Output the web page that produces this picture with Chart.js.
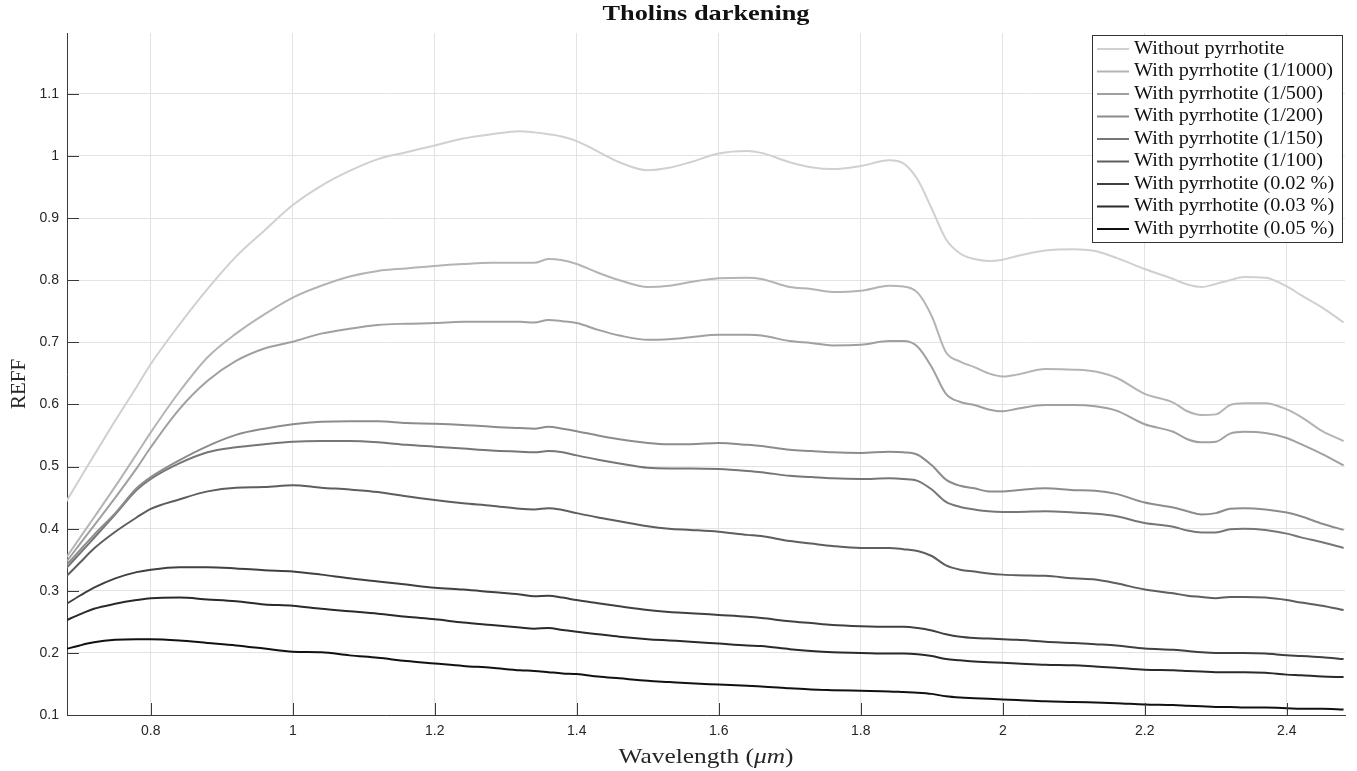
<!DOCTYPE html>
<html>
  <head>
    <title>Tholins darkening</title>
    <script src="https://cdn.jsdelivr.net/npm/chart.js@4.4.0/dist/chart.umd.min.js"></script>
    <style>
      body {
        margin: 0;
        background: #fff;
      }
      #chart {
        display: block;
      }
    </style>
  </head>
  <body>
    <canvas id="chart" width="1357" height="771"></canvas>

    <script>
      // wavelength (um)
      const wavelengths = [
        0.68, 0.70, 0.72, 0.75, 0.78, 0.80, 0.84, 0.88, 0.92, 0.96, 1.00, 1.04, 1.08, 1.12, 1.16, 1.20,
        1.24, 1.28, 1.32, 1.34, 1.36, 1.38, 1.40, 1.43, 1.46, 1.50, 1.53, 1.56, 1.60, 1.64, 1.66, 1.70,
        1.73, 1.76, 1.80, 1.84, 1.86, 1.88, 1.90, 1.92, 1.94, 1.96, 1.98, 2.00, 2.02, 2.06, 2.10, 2.13,
        2.16, 2.20, 2.24, 2.26, 2.28, 2.30, 2.32, 2.34, 2.37, 2.40, 2.42, 2.45, 2.48
      ];

      const withoutPyrr = [
        0.442, 0.480, 0.518, 0.574, 0.628, 0.665, 0.728, 0.786, 0.838, 0.880, 0.921, 0.952, 0.976, 0.995, 1.006, 1.017,
        1.028, 1.035, 1.040, 1.038, 1.035, 1.031, 1.024, 1.007, 0.990, 0.977, 0.981, 0.990, 1.004, 1.008, 1.005, 0.990,
        0.982, 0.979, 0.984, 0.993, 0.988, 0.962, 0.915, 0.866, 0.843, 0.834, 0.831, 0.833, 0.839, 0.848, 0.850, 0.847,
        0.836, 0.818, 0.802, 0.793, 0.789, 0.794, 0.800, 0.805, 0.804, 0.790, 0.776, 0.756, 0.732
      ];
      const pyrr1000 = [
        0.352, 0.385, 0.418, 0.468, 0.520, 0.555, 0.620, 0.676, 0.714, 0.745, 0.772, 0.791, 0.806, 0.815, 0.819, 0.823,
        0.826, 0.828, 0.828, 0.828, 0.834, 0.832, 0.826, 0.812, 0.800, 0.789, 0.791, 0.797, 0.803, 0.804, 0.802, 0.789,
        0.786, 0.781, 0.783, 0.791, 0.790, 0.780, 0.742, 0.684, 0.669, 0.660, 0.650, 0.645, 0.648, 0.657, 0.656, 0.653,
        0.643, 0.617, 0.603, 0.589, 0.583, 0.584, 0.599, 0.602, 0.602, 0.592, 0.580, 0.557, 0.541
      ];
      const pyrr500 = [
        0.345, 0.375, 0.405, 0.450, 0.497, 0.531, 0.592, 0.638, 0.670, 0.690, 0.701, 0.714, 0.722, 0.728, 0.730, 0.731,
        0.733, 0.733, 0.733, 0.732, 0.736, 0.734, 0.731, 0.720, 0.711, 0.704, 0.705, 0.708, 0.712, 0.712, 0.711, 0.702,
        0.699, 0.695, 0.696, 0.702, 0.702, 0.693, 0.660, 0.617, 0.604, 0.599, 0.592, 0.589, 0.593, 0.599, 0.599, 0.597,
        0.590, 0.568, 0.556, 0.544, 0.539, 0.540, 0.553, 0.556, 0.554, 0.546, 0.536, 0.520, 0.502
      ];
      const pyrr200 = [
        0.340, 0.365, 0.390, 0.425, 0.465, 0.483, 0.510, 0.533, 0.551, 0.561, 0.568, 0.572, 0.573, 0.573, 0.570, 0.569,
        0.567, 0.564, 0.562, 0.561, 0.564, 0.561, 0.557, 0.550, 0.544, 0.538, 0.536, 0.536, 0.538, 0.535, 0.533, 0.527,
        0.525, 0.523, 0.522, 0.524, 0.523, 0.519, 0.502, 0.479, 0.469, 0.465, 0.460, 0.460, 0.462, 0.465, 0.462, 0.461,
        0.456, 0.442, 0.434, 0.428, 0.423, 0.425, 0.432, 0.433, 0.431, 0.426, 0.420, 0.408, 0.398
      ];
      const pyrr150 = [
        0.335, 0.360, 0.385, 0.423, 0.462, 0.480, 0.505, 0.523, 0.531, 0.536, 0.540, 0.541, 0.541, 0.539, 0.535, 0.532,
        0.529, 0.526, 0.524, 0.523, 0.525, 0.523, 0.518, 0.511, 0.505, 0.498, 0.497, 0.497, 0.496, 0.493, 0.491, 0.485,
        0.483, 0.481, 0.480, 0.481, 0.480, 0.477, 0.463, 0.443, 0.435, 0.431, 0.428, 0.427, 0.427, 0.428, 0.426, 0.424,
        0.420, 0.409, 0.403, 0.397, 0.394, 0.394, 0.399, 0.400, 0.398, 0.392, 0.386, 0.378, 0.369
      ];
      const pyrr100 = [
        0.322, 0.345, 0.368, 0.395, 0.418, 0.432, 0.447, 0.460, 0.466, 0.467, 0.470, 0.466, 0.463, 0.459, 0.452, 0.446,
        0.441, 0.437, 0.432, 0.431, 0.433, 0.430, 0.425, 0.418, 0.412, 0.404, 0.400, 0.398, 0.395, 0.390, 0.388, 0.380,
        0.376, 0.372, 0.369, 0.369, 0.367, 0.364, 0.356, 0.341, 0.334, 0.331, 0.328, 0.326, 0.325, 0.324, 0.320, 0.318,
        0.312, 0.302, 0.296, 0.292, 0.290, 0.288, 0.290, 0.290, 0.289, 0.285, 0.281, 0.276, 0.269
      ];
      const pyrr002 = [
        0.278, 0.292, 0.305, 0.320, 0.330, 0.334, 0.338, 0.338, 0.336, 0.333, 0.331, 0.326, 0.320, 0.315, 0.310, 0.305,
        0.302, 0.298, 0.294, 0.291, 0.292, 0.289, 0.285, 0.280, 0.275, 0.269, 0.266, 0.264, 0.261, 0.258, 0.256, 0.251,
        0.248, 0.245, 0.243, 0.242, 0.242, 0.240, 0.236, 0.230, 0.226, 0.224, 0.223, 0.222, 0.221, 0.218, 0.216, 0.214,
        0.212, 0.207, 0.205, 0.203, 0.201, 0.200, 0.200, 0.200, 0.199, 0.196, 0.195, 0.193, 0.190
      ];
      const pyrr003 = [
        0.252, 0.262, 0.271, 0.279, 0.285, 0.288, 0.289, 0.286, 0.283, 0.278, 0.276, 0.271, 0.267, 0.263, 0.258, 0.254,
        0.249, 0.245, 0.241, 0.239, 0.240, 0.237, 0.234, 0.230, 0.226, 0.222, 0.220, 0.218, 0.215, 0.212, 0.211, 0.206,
        0.203, 0.201, 0.200, 0.199, 0.199, 0.198, 0.195, 0.190, 0.188, 0.186, 0.185, 0.184, 0.183, 0.181, 0.180, 0.178,
        0.176, 0.173, 0.172, 0.171, 0.170, 0.169, 0.169, 0.169, 0.168, 0.165, 0.164, 0.162, 0.161
      ];
      const pyrr005 = [
        0.206, 0.212, 0.217, 0.221, 0.222, 0.222, 0.220, 0.216, 0.212, 0.207, 0.202, 0.201, 0.196, 0.192, 0.187, 0.183,
        0.179, 0.176, 0.172, 0.171, 0.169, 0.167, 0.166, 0.162, 0.159, 0.155, 0.153, 0.151, 0.149, 0.147, 0.146, 0.143,
        0.141, 0.140, 0.139, 0.138, 0.137, 0.136, 0.134, 0.130, 0.128, 0.127, 0.126, 0.125, 0.124, 0.122, 0.121, 0.120,
        0.119, 0.117, 0.116, 0.115, 0.114, 0.113, 0.113, 0.112, 0.112, 0.111, 0.110, 0.110, 0.109
      ];

      const seriesLabels = [
        "Without pyrrhotite",
        "With pyrrhotite (1/1000)",
        "With pyrrhotite (1/500)",
        "With pyrrhotite (1/200)",
        "With pyrrhotite (1/150)",
        "With pyrrhotite (1/100)",
        "With pyrrhotite (0.02 %)",
        "With pyrrhotite (0.03 %)",
        "With pyrrhotite (0.05 %)",
      ];
      const seriesValues = [withoutPyrr, pyrr1000, pyrr500, pyrr200, pyrr150, pyrr100, pyrr002, pyrr003, pyrr005];
      const seriesColors = ["#d0d0d0", "#b4b4b4", "#a0a0a0", "#8c8c8c", "#767676", "#5e5e5e", "#404040", "#2a2a2a", "#111111"];

      const xTicks = [0.8, 1, 1.2, 1.4, 1.6, 1.8, 2, 2.2, 2.4];
      const yTicks = [0.1, 0.2, 0.3, 0.4, 0.5, 0.6, 0.7, 0.8, 0.9, 1, 1.1];

      const serif = "'Liberation Serif', 'Times New Roman', serif";
      const sans = "'Liberation Sans', Arial, sans-serif";

      // the reference uses a wide LaTeX font, so stretch the serif text to the same width
      function fitText(ctx, parts, x, y, targetW, align) {
        let total = 0;
        parts.forEach((p) => {
          ctx.font = p.font;
          p.w = ctx.measureText(p.text).width;
          total += p.w;
        });
        const s = targetW ? targetW / total : 1;
        ctx.save();
        ctx.translate(x, y);
        ctx.scale(s, 1);
        let cx = align === "center" ? -total / 2 : 0;
        ctx.textAlign = "left";
        parts.forEach((p) => {
          ctx.font = p.font;
          ctx.fillText(p.text, cx, 0);
          cx += p.w;
        });
        ctx.restore();
      }

      // MATLAB-ish decorations: inner tick marks, title, axis labels, boxed legend
      const decorPlugin = {
        id: "decor",
        afterDraw(chart) {
          const ctx = chart.ctx;
          const ca = chart.chartArea;
          const xs = chart.scales.x;
          const ys = chart.scales.y;
          ctx.save();

          ctx.strokeStyle = "#3a3a3a";
          ctx.lineWidth = 1;
          ctx.beginPath();
          xTicks.forEach((v) => {
            const px = Math.round(xs.getPixelForValue(v)) + 0.5;
            ctx.moveTo(px, ca.bottom);
            ctx.lineTo(px, ca.bottom - 12);
          });
          yTicks.forEach((v) => {
            const py = Math.round(ys.getPixelForValue(v)) + 0.5;
            ctx.moveTo(ca.left, py);
            ctx.lineTo(ca.left + 12, py);
          });
          ctx.stroke();

          const midX = (ca.left + ca.right) / 2;
          ctx.textBaseline = "alphabetic";

          // title
          ctx.fillStyle = "#111";
          fitText(ctx, [{ text: "Tholins darkening", font: "bold 21px " + serif }], midX, 20, 207, "center");

          // x label with italic unit
          ctx.fillStyle = "#262626";
          fitText(
            ctx,
            [
              { text: "Wavelength (", font: "22px " + serif },
              { text: "\u03bcm", font: "italic 22px " + serif },
              { text: ")", font: "22px " + serif },
            ],
            midX,
            763,
            175,
            "center"
          );

          // y label
          ctx.save();
          ctx.translate(25, 384);
          ctx.rotate(-Math.PI / 2);
          fitText(ctx, [{ text: "REFF", font: "21px " + serif }], 0, 0, 0, "center");
          ctx.restore();

          // legend
          const bx = ca.right - 253;
          const by = ca.top + 2;
          const bw = 250;
          const bh = 207;
          ctx.fillStyle = "#fff";
          ctx.fillRect(bx, by, bw, bh);
          ctx.strokeStyle = "#333";
          ctx.lineWidth = 1;
          ctx.strokeRect(bx + 0.5, by + 0.5, bw, bh);
          const legendFont = "18px " + serif;
          ctx.font = legendFont;
          const stretch = 199 / ctx.measureText(seriesLabels[1]).width;
          chart.data.datasets.forEach((ds, i) => {
            const ey = by + 14 + i * 22.5;
            ctx.strokeStyle = ds.borderColor;
            ctx.lineWidth = 2;
            ctx.beginPath();
            ctx.moveTo(bx + 5, ey);
            ctx.lineTo(bx + 37, ey);
            ctx.stroke();
            ctx.fillStyle = "#111";
            ctx.textBaseline = "middle";
            ctx.font = legendFont;
            const w = ctx.measureText(ds.label).width * stretch;
            fitText(ctx, [{ text: ds.label, font: legendFont }], bx + 42, ey, w, "left");
          });

          ctx.restore();
        },
      };

      const datasets = seriesLabels.map((label, i) => ({
        label: label,
        data: wavelengths.map((w, j) => ({ x: w, y: seriesValues[i][j] })),
        borderColor: seriesColors[i],
        borderWidth: 2,
        pointRadius: 0,
        cubicInterpolationMode: "monotone",
        fill: false,
      }));

      new Chart("chart", {
        type: "line",
        data: { datasets: datasets },
        options: {
          responsive: false,
          animation: false,
          devicePixelRatio: 1,
          layout: { padding: { top: 33, right: 12, left: 0, bottom: 0 } },
          plugins: {
            legend: { display: false },
            title: { display: false },
            tooltip: { enabled: false },
          },
          scales: {
            x: {
              type: "linear",
              min: 0.682,
              max: 2.482,
              afterBuildTicks: (scale) => {
                scale.ticks = xTicks.map((v) => ({ value: v }));
              },
              afterFit: (scale) => {
                scale.height = 56;
              },
              ticks: {
                color: "#262626",
                font: { family: sans, size: 14 },
                padding: 8,
                maxRotation: 0,
                callback: (v) => String(v),
              },
              grid: { color: "#e3e3e3", drawTicks: false },
              border: { color: "#3a3a3a", width: 1 },
            },
            y: {
              min: 0.1,
              max: 1.198,
              afterBuildTicks: (scale) => {
                scale.ticks = yTicks.map((v) => ({ value: v }));
              },
              afterFit: (scale) => {
                scale.width = 67;
              },
              ticks: {
                color: "#262626",
                font: { family: sans, size: 14 },
                padding: 8,
                callback: (v) => String(v),
              },
              grid: { color: "#e3e3e3", drawTicks: false },
              border: { color: "#3a3a3a", width: 1 },
            },
          },
        },
        plugins: [decorPlugin],
      });
    </script>
  </body>
</html>
